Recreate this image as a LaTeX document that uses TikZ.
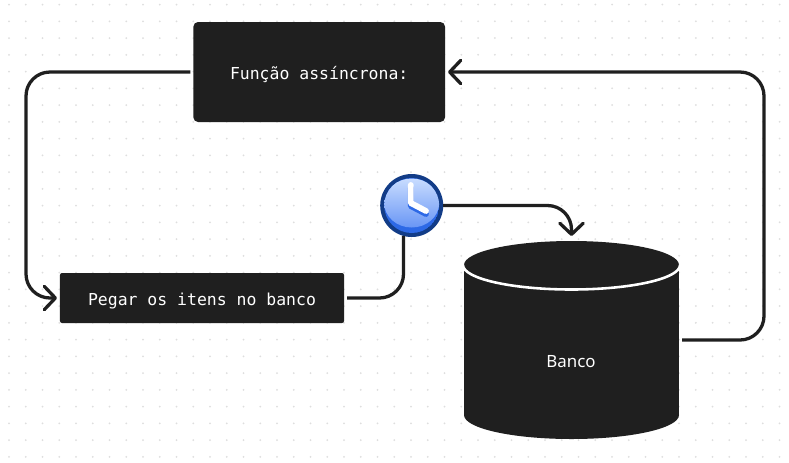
\documentclass[tikz,border=0pt]{standalone}
\usepackage{fontspec}
\setmainfont{Noto Sans}
\setmonofont{DejaVu Sans Mono}
\usetikzlibrary{arrows.meta}
\definecolor{boxdark}{RGB}{31,31,31}
\definecolor{griddot}{RGB}{222,222,222}
\definecolor{clockring}{RGB}{18,60,135}
\definecolor{clocktop}{RGB}{200,220,255}
\definecolor{clockmid}{RGB}{105,150,245}
\definecolor{clockband}{RGB}{45,105,230}
\tikzset{
  code_box/.style = {rectangle, fill=boxdark, text=white, inner sep=0pt, outer sep=0pt,
    font=\ttfamily\fontsize{14.05}{16}\selectfont, text height=12pt, text depth=0pt},
  db_body/.style = {rectangle, minimum width=6.45cm, minimum height=5.94cm, inner sep=0pt, outer sep=0pt},
  db_text/.style = {text=white, font=\fontsize{14.4}{16}\selectfont, inner sep=0pt},
  clock_node/.style = {circle, minimum size=1.89cm, inner sep=0pt, outer sep=0pt, fill=clockring},
  link/.style = {draw=boxdark, line width=2.8pt, rounded corners=0.72cm},
  chevron/.style = {-{Straight Barb[length=9.5pt,width=20pt,line width=2.8pt,round]}},
}
\begin{document}
\begin{tikzpicture}[x=0.03cm,y=-0.03cm]
  \useasboundingbox (0,0) rectangle (789,462);
  \fill[white] (0,0) rectangle (789,462);

  % grid
  \foreach \i in {0,...,46}
    \foreach \j in {0,...,27}
      \fill[griddot] (9+16.75*\i,4.5+16.75*\j) circle (1);

  % boxes
  \node[code_box, rounded corners=4pt, minimum width=7.55cm, minimum height=3cm] (funcao) at (319.2,72) {Função assíncrona:};
  \node[code_box, rounded corners=1.7pt, minimum width=8.52cm, minimum height=1.5cm] (pegar) at (202,298) {Pegar os itens no banco};

  % banco
  \node[db_body] (body) at (571.5,340) {};
  \fill[boxdark] (464,265) rectangle (679,415);
  \fill[boxdark] (571.5,265) ellipse (107.5 and 24);
  \fill[boxdark] (571.5,415) ellipse (107.5 and 24);
  \draw[white, line width=2.2pt] (463,265) arc[start angle=180, end angle=0, x radius=108.5, y radius=24.5];
  \node[db_text] (banco) at (571,362) {Banco};

  % clock
  \node[clock_node] (clock) at (411.7,205.5) {};
  \begin{scope}
    \clip (411.7,205.5) circle (27.5);
    \fill[clockband] (411.7,205.5) circle (27.5);
    \shade[top color=clocktop, bottom color=clockmid] (411.7,203) ellipse (27.5 and 24.5);
  \end{scope}
  \draw[clockband, line width=5pt, line cap=round, line join=round] (410.8,188) -- (410.8,206) -- (426,214);
  \draw[white, line width=5pt, line cap=round, line join=round] (410.8,185) -- (410.8,203) -- (426,211);

  % links
  \draw[link, chevron, shorten <=0.09cm, shorten >=0.09cm] (funcao.west) -- (26,72) -- (26,298) -- (pegar.west);
  \draw[link, shorten <=0.09cm] (pegar.east) -- (403.5,298) -- (clock.-105);
  \draw[link, chevron, shorten >=0.15cm] (clock.east) -- (571.5,205.5) -- (body.north);
  \draw[link, chevron, shorten <=0.09cm, shorten >=0.09cm] (body.east) -- (764,340) -- (764,72) -- (funcao.east);
\end{tikzpicture}
\end{document}
